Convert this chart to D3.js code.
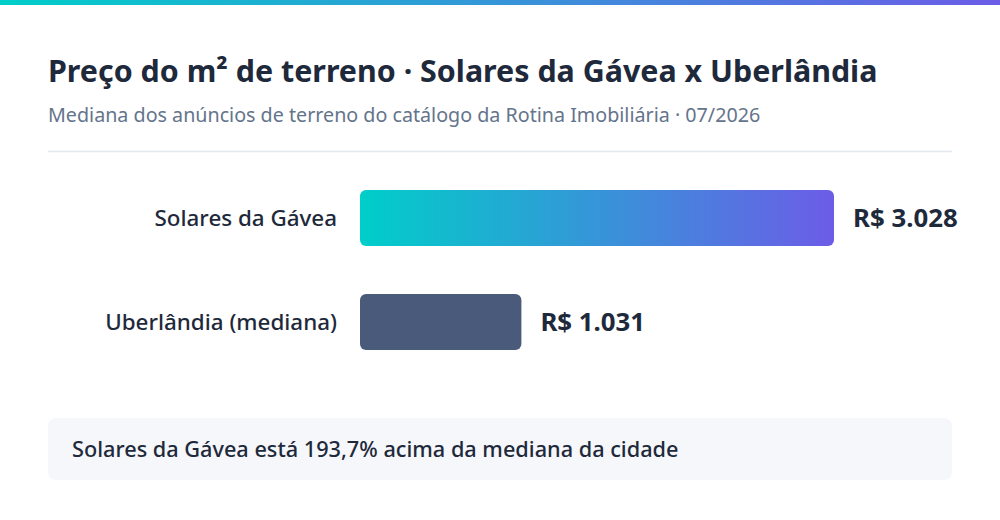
<!DOCTYPE html>
<html>
<head>
<meta charset="utf-8">
<script src="https://cdn.jsdelivr.net/npm/d3@7"></script>
<style>
	html, body { margin: 0; padding: 0; background: #ffffff; }
	body { width: 1000px; height: 520px; overflow: hidden; font-family: 'Noto Sans', sans-serif; }
</style>
</head>
<body>
<div id="chart"></div>
<script>
// Data
const categories = ['Solares da Gávea', 'Uberlândia (mediana)'];
const values = [3028, 1031];
const titleText = 'Preço do m² de terreno · Solares da Gávea x Uberlândia';
const subtitleText = 'Mediana dos anúncios de terreno do catálogo da Rotina Imobiliária · 07/2026';
const noteText = 'Solares da Gávea está 193,7% acima da mediana da cidade';

const width = 1000;
const height = 520;

const svg = d3
	.select('#chart')
	.append('svg')
	.attr('width', width)
	.attr('height', height);

const defs = svg.append('defs');

// Gradients
const topGrad = defs.append('linearGradient').attr('id', 'topGrad').attr('x1', '0%').attr('x2', '100%');
topGrad.append('stop').attr('offset', '0%').attr('stop-color', '#00cec9');
topGrad.append('stop').attr('offset', '100%').attr('stop-color', '#6c5ce7');

const barGrad = defs.append('linearGradient').attr('id', 'barGrad').attr('x1', '0%').attr('x2', '100%');
barGrad.append('stop').attr('offset', '0%').attr('stop-color', '#00cec9');
barGrad.append('stop').attr('offset', '100%').attr('stop-color', '#6c5ce7');

// Top accent strip
svg.append('rect')
	.attr('x', 0)
	.attr('y', 0)
	.attr('width', width)
	.attr('height', 5)
	.attr('fill', 'url(#topGrad)');

// Title + subtitle
svg.append('text')
	.attr('x', 48)
	.attr('y', 82)
	.attr('fill', '#1e293b')
	.style('font-size', '30.4px')
	.style('font-weight', 700)
	.text(titleText);

svg.append('text')
	.attr('x', 48)
	.attr('y', 122)
	.attr('fill', '#64748b')
	.style('font-size', '19.7px')
	.text(subtitleText);

svg.append('line')
	.attr('x1', 48)
	.attr('x2', 952)
	.attr('y1', 151.5)
	.attr('y2', 151.5)
	.attr('stroke', '#e2e8f0')
	.attr('stroke-width', 1.5);

// Scales
const x = d3.scaleLinear().domain([0, d3.max(values)]).range([360, 834]);
const y = d3.scaleBand().domain(categories).range([166, 374]).paddingInner(0.46).paddingOuter(0.23);

const rows = categories.map((c, i) => ({ name: c, value: values[i] }));

// Bars
svg.append('g')
	.selectAll('rect')
	.data(rows)
	.enter()
	.append('rect')
	.attr('x', x(0))
	.attr('y', (d) => y(d.name))
	.attr('width', (d) => x(d.value) - x(0))
	.attr('height', y.bandwidth())
	.attr('rx', 6)
	.attr('fill', (d, i) => (i === 0 ? 'url(#barGrad)' : '#4a5a7b'));

// Category labels
svg.append('g')
	.selectAll('text')
	.data(rows)
	.enter()
	.append('text')
	.attr('x', 337)
	.attr('y', (d) => y(d.name) + y.bandwidth() / 2)
	.attr('dy', '0.35em')
	.attr('text-anchor', 'end')
	.attr('fill', '#1e293b')
	.style('font-size', '22.4px')
	.style('font-weight', 500)
	.text((d) => d.name);

// Value labels
svg.append('g')
	.selectAll('text')
	.data(rows)
	.enter()
	.append('text')
	.attr('x', (d) => x(d.value) + 19)
	.attr('y', (d) => y(d.name) + y.bandwidth() / 2)
	.attr('dy', '0.35em')
	.attr('fill', '#1e293b')
	.style('font-size', '25.8px')
	.style('font-weight', 700)
	.text((d) => 'R$ ' + d3.format(',')(d.value).replace(/,/g, '.'));

// Note box
svg.append('rect')
	.attr('x', 48)
	.attr('y', 418)
	.attr('width', 904)
	.attr('height', 62)
	.attr('rx', 8)
	.attr('fill', '#f5f7fa');

svg.append('text')
	.attr('x', 72)
	.attr('y', 449)
	.attr('dy', '0.35em')
	.attr('fill', '#1e293b')
	.style('font-size', '21.7px')
	.style('font-weight', 500)
	.text(noteText);
</script>
</body>
</html>
